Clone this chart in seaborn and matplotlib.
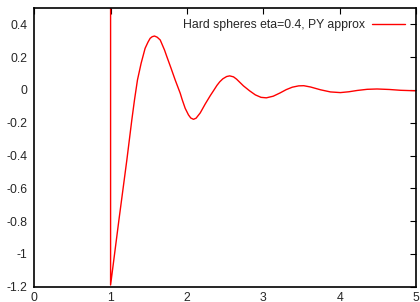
import matplotlib
matplotlib.use('Agg')
import matplotlib.pyplot as plt
import seaborn as sns
import pandas as pd

# h(r) (first two points make the jump at r=1)
r = [1.0, 1.0, 1.11, 1.213, 1.278, 1.313, 1.352, 1.40, 1.452, 1.49, 1.518,
     1.545, 1.575, 1.61, 1.65, 1.706, 1.737, 1.79, 1.846, 1.912, 1.937,
     1.977, 2.02, 2.05, 2.086, 2.12, 2.174, 2.24, 2.305, 2.35, 2.393, 2.43,
     2.47, 2.52, 2.56, 2.61, 2.65, 2.74, 2.82, 2.896, 2.97, 3.04, 3.13,
     3.22, 3.30, 3.38, 3.463, 3.53, 3.62, 3.75, 3.88, 4.01, 4.12, 4.23,
     4.36, 4.49, 4.65, 4.80, 5.0]
h = [2.0, -1.19, -0.79, -0.427, -0.183, -0.061, 0.061, 0.163, 0.254, 0.292,
     0.315, 0.325, 0.329, 0.322, 0.305, 0.244, 0.203, 0.135, 0.061, -0.02,
     -0.058, -0.112, -0.152, -0.171, -0.179, -0.172, -0.14, -0.085, -0.035,
     -0.003, 0.028, 0.05, 0.068, 0.082, 0.086, 0.08, 0.066, 0.025, -0.005,
     -0.03, -0.045, -0.048, -0.038, -0.018, 0.002, 0.017, 0.025, 0.026,
     0.018, 0.001, -0.012, -0.016, -0.011, -0.003, 0.004, 0.006, 0.003,
     -0.002, -0.005]

xticks = [0, 1, 2, 3, 4, 5]
yticks = [0.4, 0.2, 0, -0.2, -0.4, -0.6, -0.8, -1, -1.2]

df = pd.DataFrame({'r': r, 'h': h})

sns.set_style('white')
plt.rcParams['font.family'] = ['Liberation Sans', 'DejaVu Sans']
plt.rcParams['axes.unicode_minus'] = False

fig = plt.figure(figsize=(4.2, 3.02), dpi=100)
ax = fig.add_axes([0.0815, 0.0507, 0.909, 0.9228])

sns.lineplot(data=df, x='r', y='h', sort=False, estimator=None,
             color='#ff0000', linewidth=1.0,
             label='Hard spheres eta=0.4, PY approx', ax=ax)

ax.set_xlim(0, 5)
ax.set_ylim(-1.2, 0.5)
ax.set_xticks(xticks)
ax.set_xticklabels([str(t) for t in xticks])
ax.set_yticks(yticks)
ax.set_yticklabels(['%g' % t for t in yticks])
ax.set_xlabel('')
ax.set_ylabel('')
ax.tick_params(direction='in', length=4, width=0.8, top=True, right=True,
               labelsize=8.8, color='black')
ax.tick_params(axis='x', pad=3.5)
ax.tick_params(axis='y', pad=5)
for s in ax.spines.values():
    s.set_color('black')
    s.set_linewidth(1.2)

ax.legend(loc='upper right', frameon=False, markerfirst=False, fontsize=8.8,
          handlelength=2.7, handletextpad=0.6, borderaxespad=0.8,
          borderpad=0.1)

fig.savefig('out.png', dpi=100)
